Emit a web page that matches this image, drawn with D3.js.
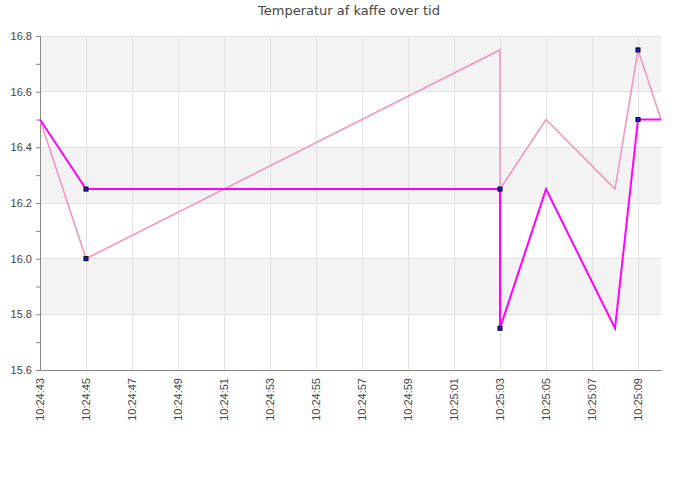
<!DOCTYPE html>
<html><head><meta charset="utf-8">
<script src="https://cdn.jsdelivr.net/npm/d3@7"></script>
<style>body{margin:0;background:#fff;}svg{display:block;font-family:"DejaVu Sans",sans-serif;}</style>
</head><body>
<svg id="c" width="700" height="500"></svg>
<script>
const title = "Temperatur af kaffe over tid";
const pinkTimes = ["10:24:43","10:24:45","10:25:03","10:25:03","10:25:05","10:25:08","10:25:09","10:25:10"];
const pinkValues = [16.5,16.0,16.75,16.25,16.5,16.25,16.75,16.5];
const magentaTimes = ["10:24:43","10:24:45","10:25:03","10:25:03","10:25:05","10:25:08","10:25:09","10:25:10"];
const magentaValues = [16.5,16.25,16.25,15.75,16.25,15.75,16.5,16.5];
const markerTimes = ["10:24:45","10:24:45","10:25:03","10:25:03","10:25:09","10:25:09"];
const markerValues = [16.0,16.25,16.25,15.75,16.75,16.5];
const yTicks = [15.6,15.8,16.0,16.2,16.4,16.6,16.8];
const xTickLabels = ["10:24:43","10:24:45","10:24:47","10:24:49","10:24:51","10:24:53","10:24:55","10:24:57","10:24:59","10:25:01","10:25:03","10:25:05","10:25:07","10:25:09"];
const xStart = "10:24:43", xEnd = "10:25:10";

const parse = d3.timeParse("%H:%M:%S");
const svg = d3.select("#c");
const m = {l:40, r:661, t:36, b:370};
const x = d3.scaleTime().domain([parse(xStart), parse(xEnd)]).range([m.l, m.r]);
const y = d3.scaleLinear().domain([15.6,16.8]).range([m.b, m.t]);

// alternating bands (gray on 15.8-16.0, 16.2-16.4, 16.6-16.8)
for (let i = 1; i < yTicks.length-1; i += 2) {
  svg.append("rect").attr("x", m.l).attr("width", m.r-m.l)
    .attr("y", y(yTicks[i+1])).attr("height", y(yTicks[i]) - y(yTicks[i+1]))
    .attr("fill", "#f3f3f3");
}
const xTickVals = xTickLabels.map(parse);
// grid
svg.append("g").selectAll("line").data(xTickVals).join("line")
  .attr("x1", d=>Math.round(x(d))+0.5).attr("x2", d=>Math.round(x(d))+0.5).attr("y1", m.t).attr("y2", m.b)
  .attr("stroke", "#e2e2e2").attr("stroke-width", 1);
svg.append("g").selectAll("line").data(yTicks).join("line")
  .attr("x1", m.l).attr("x2", m.r).attr("y1", d=>y(d)).attr("y2", d=>y(d))
  .attr("stroke", "#e2e2e2").attr("stroke-width", 1).attr("shape-rendering","crispEdges");

// axes
const yAxis = d3.axisLeft(y).tickValues(d3.range(15.6, 16.81, 0.1)).tickSize(4)
  .tickFormat(d => yTicks.some(t => Math.abs(t-d) < 1e-6) ? d.toFixed(1) : "");
const gy = svg.append("g").attr("transform", `translate(${m.l},0)`).call(yAxis);
gy.select(".domain").attr("stroke", "#888");
gy.selectAll(".tick line").attr("stroke", "#888");
gy.selectAll(".tick text").attr("fill", "#444").attr("font-size", 11).attr("x", -8);

const xAxis = d3.axisBottom(x).tickValues(xTickVals).tickSize(0).tickFormat(d3.timeFormat("%H:%M:%S"));
const gx = svg.append("g").attr("transform", `translate(0,${m.b})`).call(xAxis);
gx.select(".domain").attr("stroke", "#888");
gx.selectAll(".tick text").attr("fill", "#444").attr("font-size", 11)
  .attr("transform", "rotate(-90)").attr("text-anchor", "end")
  .attr("x", -8).attr("y", 0).attr("dy", "0.35em");

const line = d3.line().x(d=>x(d[0])).y(d=>y(d[1]));
const pinkData = pinkTimes.map((t,i)=>[parse(t), pinkValues[i]]);
const magData = magentaTimes.map((t,i)=>[parse(t), magentaValues[i]]);
svg.append("path").datum(pinkData).attr("d", line).attr("fill","none")
  .attr("stroke", "#f495c2").attr("stroke-width", 1.6);
svg.append("path").datum(magData).attr("d", line).attr("fill","none")
  .attr("stroke", "#ff00ff").attr("stroke-width", 2);

svg.append("g").selectAll("rect").data(markerTimes.map((t,i)=>[parse(t), markerValues[i]])).join("rect")
  .attr("x", d=>x(d[0])-2).attr("y", d=>y(d[1])-2).attr("width", 4).attr("height", 4)
  .attr("fill", "#1a1aff").attr("stroke", "#000").attr("stroke-width", 1);

svg.append("text").attr("x", 349).attr("y", 15).attr("text-anchor","middle")
  .attr("font-size", 13).attr("fill", "#444").text(title);
</script>
</body></html>
